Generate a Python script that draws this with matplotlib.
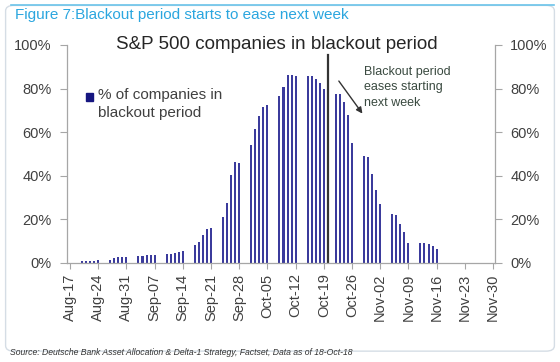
import matplotlib
matplotlib.use("Agg")
import matplotlib.pyplot as plt
import matplotlib.dates as mdates
from matplotlib.patches import FancyBboxPatch, Rectangle
import numpy as np
import pandas as pd

plt.rcParams["font.family"] = ["Liberation Sans", "DejaVu Sans"]

# business days in the chart (Mon-Fri, 13 weeks)
dates = pd.bdate_range("2018-08-20", "2018-11-16")
# % of S&P 500 companies in blackout period (one week per row)
pct = [
    0.7, 0.8, 0.9, 1.1, 1.2,
    1.5, 2.4, 2.9, 2.9, 2.9,
    3.2, 3.4, 3.7, 3.8, 3.8,
    4.0, 4.0, 4.4, 5.2, 5.6,
    8.1, 9.6, 12.7, 15.8, 16.0,
    20.9, 27.3, 40.2, 46.1, 46.0,
    53.9, 61.4, 67.5, 71.5, 72.4,
    76.6, 80.9, 86.3, 86.3, 86.0,
    85.8, 85.8, 84.3, 82.7, 79.7,
    77.7, 77.7, 74.0, 67.7, 54.9,
    48.9, 48.6, 40.7, 33.4, 27.0,
    22.4, 21.9, 18.1, 14.3, 9.3,
    9.0, 9.0, 8.5, 7.9, 6.4,
]
tick_dates = pd.date_range("2018-08-17", "2018-11-30", freq="7D")
y_ticks = [0, 20, 40, 60, 80, 100]
today = pd.Timestamp("2018-10-20")

BAR = "#3b3b9c"
GREY = "#a6a6a6"
TXT = "#404040"

fig = plt.figure(figsize=(5.6, 3.62), dpi=100)
ax = fig.add_axes([0.1196, 0.2735, 0.7643, 0.6022])

ax.bar(dates, pct, width=0.5, color=BAR, edgecolor="none", linewidth=0)
ax.axvline(today, ymin=0, ymax=0.955, color="#333333", lw=1.6)

x0 = mdates.date2num(pd.Timestamp("2018-08-17")) - 0.75
x1 = mdates.date2num(pd.Timestamp("2018-08-17")) + 105.5
ax.set_xlim(x0, x1)
ax.set_ylim(0, 100)
ax.set_xticks(tick_dates)
ax.xaxis.set_major_formatter(mdates.DateFormatter("%b-%d"))
ax.set_yticks(y_ticks)
ax.set_yticklabels([f"{v}%" for v in y_ticks])
ax.tick_params(axis="x", rotation=90, labelsize=10.5, colors=GREY, labelcolor=TXT,
               length=4, width=0.8)
ax.tick_params(axis="y", labelsize=10.5, colors=GREY, labelcolor=TXT, length=5, width=0.8,
               right=True, labelright=True, pad=6)
for s in ["left", "right", "bottom"]:
    ax.spines[s].set_color(GREY)
    ax.spines[s].set_linewidth(0.9)
ax.spines["top"].set_visible(False)

ax.text(0.49, 1.0, "S&P 500 companies in blackout period", transform=ax.transAxes,
        ha="center", va="center", fontsize=13.5, color="#262626")

# legend
ax.add_patch(Rectangle((0.044, 0.743), 0.016, 0.037, transform=ax.transAxes,
                       color="#161680", clip_on=False))
ax.text(0.072, 0.805, "% of companies in\nblackout period", transform=ax.transAxes,
        ha="left", va="top", fontsize=11, color=TXT, linespacing=1.4)

# annotation
ax.annotate("", xy=(pd.Timestamp("2018-10-29"), 67.5),
            xytext=(pd.Timestamp("2018-10-22 08:00"), 84.5),
            arrowprops=dict(arrowstyle="-|>", color="#333333", lw=1.0, mutation_scale=9))
ax.text(pd.Timestamp("2018-10-29"), 90.5, "Blackout period\neases starting\nnext week",
        ha="left", va="top", fontsize=9, color="#3a4a40", linespacing=1.4)

# frame and header
fig.patches.append(FancyBboxPatch((0.01, 0.03), 0.98, 0.955, boxstyle="round,pad=0,rounding_size=0.015",
                                  transform=fig.transFigure, fill=False, edgecolor="#d5dde5", lw=1.0))
fig.add_artist(plt.Line2D([0.02, 0.99], [0.985, 0.985], transform=fig.transFigure,
                          color="#6cc4ea", lw=1.2))
fig.text(0.027, 0.958, "Figure 7:Blackout period starts to ease next week", ha="left", va="center",
         fontsize=11, color="#2ba6df")
fig.text(0.018, 0.026, "Source: Deutsche Bank Asset Allocation & Delta-1 Strategy, Factset, "
         "Data as of 18-Oct-18", ha="left", va="center", fontsize=6.2, style="italic", color="#333333")

fig.savefig("out.png", dpi=100)
